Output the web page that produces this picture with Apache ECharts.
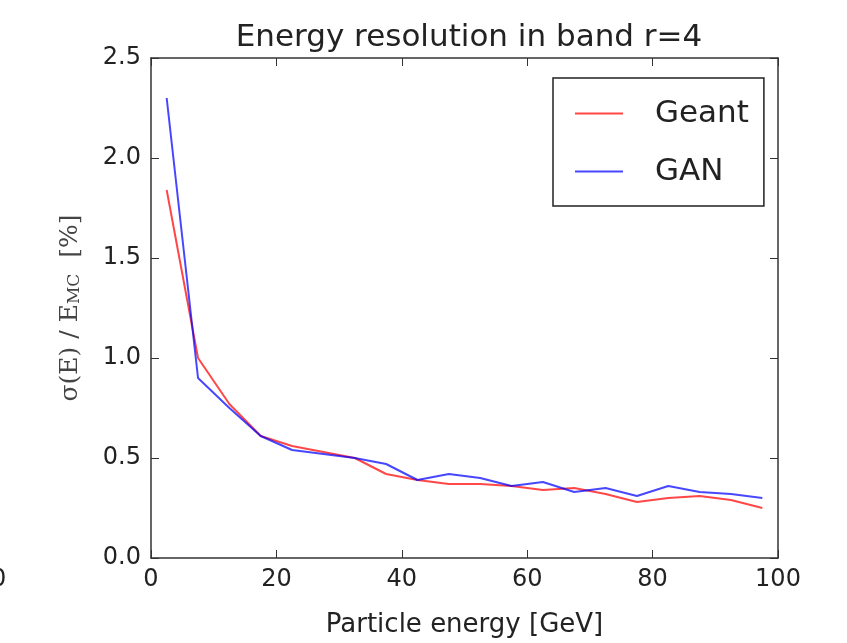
<!DOCTYPE html>
<html>
<head>
<meta charset="utf-8">
<script src="https://cdn.jsdelivr.net/npm/echarts@6/dist/echarts.min.js"></script>
<style>
  html, body { margin: 0; padding: 0; background: #fff; }
  #main { width: 847px; height: 643px; }
</style>
</head>
<body>
<div id="main"></div>
<script>
// particle energy bin centres [GeV]
var energies = [2.5, 7.5, 12.5, 17.5, 22.5, 27.5, 32.5, 37.5, 42.5, 47.5,
                52.5, 57.5, 62.5, 67.5, 72.5, 77.5, 82.5, 87.5, 92.5, 97.5]
// resolution values
var geant = [1.84, 1.00, 0.77, 0.61, 0.56, 0.53, 0.50, 0.42, 0.39, 0.37,
             0.37, 0.36, 0.34, 0.35, 0.32, 0.28, 0.30, 0.31, 0.29, 0.25]
var gan = [2.30, 0.90, 0.75, 0.61, 0.54, 0.52, 0.50, 0.47, 0.39, 0.42,
           0.40, 0.36, 0.38, 0.33, 0.35, 0.31, 0.36, 0.33, 0.32, 0.30]
var xTicks = [0, 20, 40, 60, 80, 100]
var yTicks = [0.0, 0.5, 1.0, 1.5, 2.0, 2.5]

var font = 'DejaVu Sans'
var red = 'rgba(255,0,0,0.72)'
var blue = 'rgba(0,0,255,0.72)'

function pairs(xs, ys) {
  return xs.map(function (x, i) { return [x, ys[i]] })
}

// box round the plot, matplotlib style: ticks point inward on all sides
var frameLine = { show: true, onZero: false, lineStyle: { color: '#333', width: 1.5 } }
var inTicks = { show: true, inside: true, length: 8, lineStyle: { color: '#333', width: 1 } }

var chart = echarts.init(document.getElementById('main'))
chart.setOption({
  animation: false,
  title: {
    text: 'Energy resolution in band r=4',
    left: 464, top: 17, textAlign: 'center',
    textStyle: { fontFamily: font, fontSize: 31, fontWeight: 'normal', color: '#222' }
  },
  legend: {
    orient: 'vertical',
    left: 553, top: 78,
    padding: [20, 15, 19, 22],
    itemGap: 27,
    itemWidth: 48, itemHeight: 2,
    icon: 'rect',
    borderColor: '#222', borderWidth: 1.5,
    textStyle: { fontFamily: font, fontSize: 31, color: '#222', padding: [0, 0, 0, 27] },
    data: ['Geant', 'GAN']
  },
  grid: { left: 151, right: 69, top: 58, bottom: 83 },
  xAxis: [{
    type: 'value', min: 0, max: 100, interval: 20,
    name: 'Particle energy [GeV]', nameLocation: 'middle', nameGap: 54,
    nameTextStyle: { fontFamily: font, fontSize: 26, color: '#222' },
    axisLine: frameLine, axisTick: inTicks, splitLine: { show: false },
    axisLabel: { fontFamily: font, fontSize: 24, color: '#222', margin: 10,
      formatter: function (v) { return xTicks.indexOf(v) >= 0 ? String(v) : '' } }
  }, {
    type: 'value', position: 'top', min: 0, max: 100, interval: 20,
    axisLine: frameLine, axisTick: inTicks, axisLabel: { show: false }, splitLine: { show: false }
  }],
  yAxis: [{
    type: 'value', min: 0, max: 2.5, interval: 0.5,
    name: '{m|σ(E) / E}{s|MC}{m|  [%]}', nameLocation: 'middle', nameGap: 68,
    nameTextStyle: {
      rich: {
        m: { fontFamily: 'DejaVu Serif', fontSize: 25, color: '#444' },
        s: { fontFamily: 'DejaVu Serif', fontSize: 17, color: '#444', verticalAlign: 'bottom', padding: [7, 0, 0, 0] }
      }
    },
    axisLine: frameLine, axisTick: inTicks, splitLine: { show: false },
    axisLabel: { fontFamily: font, fontSize: 24, color: '#222', margin: 10,
      formatter: function (v) { return yTicks.indexOf(v) >= 0 ? v.toFixed(1) : '' } }
  }, {
    type: 'value', position: 'right', min: 0, max: 2.5, interval: 0.5,
    axisLine: frameLine, axisTick: inTicks, axisLabel: { show: false }, splitLine: { show: false }
  }],
  graphic: [{
    type: 'text', left: -9, top: 568,
    style: { text: '0', font: '24px DejaVu Sans', fill: '#222' }
  }],
  series: [{
    name: 'Geant', type: 'line', showSymbol: false,
    data: pairs(energies, geant),
    itemStyle: { color: red },
    lineStyle: { color: red, width: 2 }
  }, {
    name: 'GAN', type: 'line', showSymbol: false,
    data: pairs(energies, gan),
    itemStyle: { color: blue },
    lineStyle: { color: blue, width: 2 }
  }]
})
</script>
</body>
</html>
